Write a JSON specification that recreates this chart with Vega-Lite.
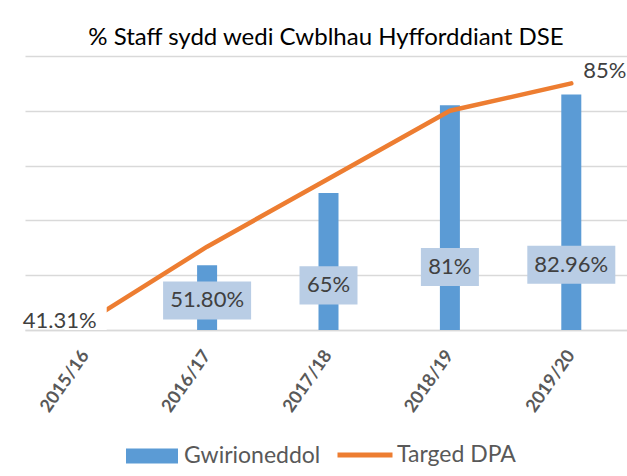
{
  "$schema": "https://vega.github.io/schema/vega-lite/v6.json",
  "width": 602,
  "height": 274,
  "autosize": {"type": "none"},
  "padding": {"left": 25, "top": 56, "right": 0, "bottom": 146},
  "background": "white",
  "config": {"view": {"stroke": null}, "font": "Lato"},
  "title": {"text": "% Staff sydd wedi Cwblhau Hyfforddiant DSE", "font": "Lato", "fontSize": 24, "fontWeight": "normal", "color": "#000000", "anchor": "middle", "offset": 6},
  "data": {"values": [
    {"year": "2015/16", "actual": null, "target": 41.31, "tlabel": "41.31%"},
    {"year": "2016/17", "actual": 51.8, "target": 55.2, "alabel": "51.80%"},
    {"year": "2017/18", "actual": 65, "target": 67.6, "alabel": "65%"},
    {"year": "2018/19", "actual": 81, "target": 80, "alabel": "81%"},
    {"year": "2019/20", "actual": 82.96, "target": 85, "alabel": "82.96%", "tlabel": "85%"}
  ]},
  "encoding": {
    "x": {"field": "year", "type": "nominal",
      "scale": {"domain": ["2015/16", "2016/17", "2017/18", "2018/19", "2019/20"], "range": [0, 607], "paddingInner": 0, "paddingOuter": 0},
      "axis": {"title": null, "labelAngle": -55, "labelAlign": "right", "labelBaseline": "middle", "labelFont": "Lato", "labelFontSize": 18, "labelFontWeight": "bold", "labelColor": "#595959", "ticks": false, "domain": true, "domainColor": "#D9D9D9", "domainWidth": 1.5, "labelPadding": 22, "grid": false}}
  },
  "layer": [
    {
      "transform": [{"filter": "datum.actual != null"}],
      "mark": {"type": "bar", "width": 20},
      "encoding": {
        "y": {"field": "actual", "type": "quantitative", "scale": {"domain": [40, 90], "nice": false, "zero": false},
          "axis": {"title": null, "labels": false, "ticks": false, "domain": false, "grid": true, "gridColor": "#D9D9D9", "gridWidth": 1.5, "values": [40, 50, 60, 70, 80, 90]}},
        "y2": {"datum": 40},
        "fill": {"datum": "Gwirioneddol", "scale": {"range": ["#5B9BD5"]},
          "legend": {"orient": "none", "legendX": 100, "legendY": 373, "title": null, "symbolType": "M-1,-0.29H1V0.29H-1Z", "symbolSize": 2704, "labelFont": "Lato", "labelFontSize": 23, "labelColor": "#595959", "padding": 0, "labelOffset": 5}}
      }
    },
    {
      "mark": {"type": "line", "strokeWidth": 4.5, "strokeCap": "round", "strokeJoin": "round"},
      "encoding": {
        "y": {"field": "target", "type": "quantitative"},
        "stroke": {"datum": "Targed DPA", "scale": {"range": ["#ED7D31"]},
          "legend": {"orient": "none", "legendX": 310, "legendY": 369, "title": null, "symbolType": "stroke", "symbolSize": 3025, "symbolStrokeWidth": 5, "labelFont": "Lato", "labelFontSize": 23, "labelColor": "#595959", "padding": 0, "labelOffset": 2}}
      }
    },
    {
      "transform": [{"filter": "datum.year == '2015/16'"}],
      "mark": {"type": "bar", "width": 42, "color": "white"},
      "encoding": {"y": {"datum": 40}, "y2": {"datum": 45}}
    },
    {
      "transform": [{"filter": "datum.year == '2015/16'"}],
      "mark": {"type": "text", "align": "right", "baseline": "middle", "dx": 11, "dy": -2, "font": "Lato", "fontSize": 22, "color": "#404040"},
      "encoding": {"y": {"field": "target", "type": "quantitative"}, "text": {"field": "tlabel"}}
    },
    {
      "transform": [{"filter": "datum.year == '2019/20'"}],
      "mark": {"type": "text", "align": "left", "baseline": "middle", "dx": 12, "dy": -12, "font": "Lato", "fontSize": 22, "color": "#404040"},
      "encoding": {"y": {"field": "target", "type": "quantitative"}, "text": {"field": "tlabel"}}
    },
    {
      "transform": [
        {"filter": "datum.actual != null"},
        {"calculate": "34.56 + 0.209 * datum.actual", "as": "lp"},
        {"calculate": "datum.lp - 3.47", "as": "lo"},
        {"calculate": "datum.lp + 3.47", "as": "hi"},
        {"calculate": "length(datum.alabel)", "as": "len"}
      ],
      "mark": {"type": "bar", "color": "#B9CDE5"},
      "encoding": {
        "y": {"field": "lo", "type": "quantitative"},
        "y2": {"field": "hi"},
        "size": {"field": "len", "type": "quantitative", "scale": {"domain": [3, 6], "range": [58, 88]}, "legend": null}
      }
    },
    {
      "transform": [
        {"filter": "datum.actual != null"},
        {"calculate": "34.56 + 0.209 * datum.actual", "as": "lp"}
      ],
      "mark": {"type": "text", "baseline": "middle", "font": "Lato", "fontSize": 22, "color": "#404040"},
      "encoding": {"y": {"field": "lp", "type": "quantitative"}, "text": {"field": "alabel"}}
    }
  ]
}
